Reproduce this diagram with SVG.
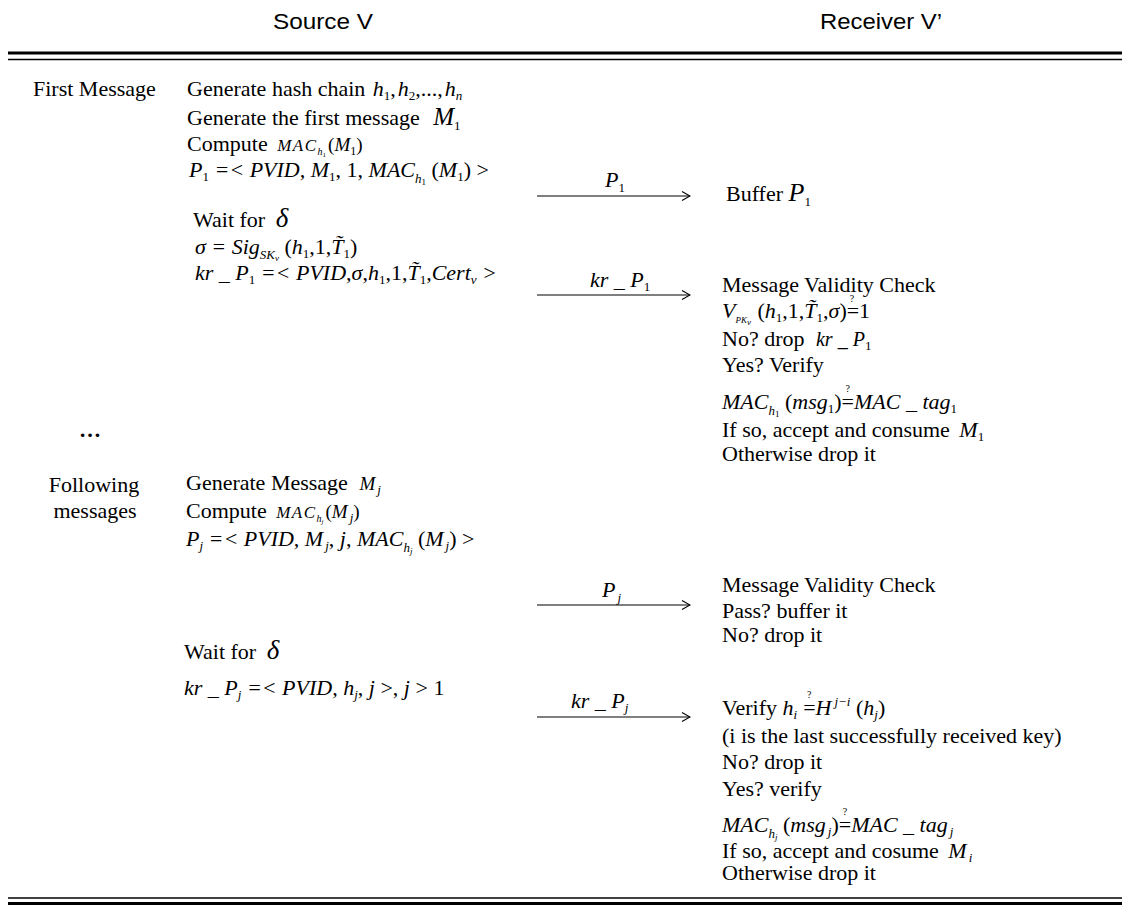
<svg xmlns="http://www.w3.org/2000/svg" width="1127" height="907" viewBox="0 0 1127 907">
<defs>
<style>
.t{font-family:"Liberation Serif","Times New Roman",serif;font-size:22px;fill:#000}
.h{font-family:"Liberation Sans",Arial,sans-serif;font-size:22px;fill:#000}
.m{font-style:italic}
.n{font-style:normal}
.sb{font-size:13px;font-style:normal}
.sbi{font-size:13px;font-style:italic}
.ss{font-size:9px;font-style:normal}
.ssi{font-size:9px;font-style:italic}
.q{font-size:10px;font-style:normal}
.rule{stroke:#000;fill:none}
.arr{stroke:#000;stroke-width:1.2;fill:none}
</style>
<marker id="open" viewBox="0 0 10 10" refX="9" refY="5" markerWidth="10" markerHeight="10" markerUnits="userSpaceOnUse" orient="auto">
<path d="M1,0.5 L9,5 L1,9.5" fill="none" stroke="#000" stroke-width="1.1"/>
</marker>
</defs>
<rect width="1127" height="907" fill="#fff"/>

<g id="header">
<text class="h" x="323" y="29" text-anchor="middle" font-size="23" textLength="100" lengthAdjust="spacingAndGlyphs">Source  V</text>
<text class="h" x="881" y="29" text-anchor="middle" font-size="23" textLength="122" lengthAdjust="spacingAndGlyphs">Receiver V’</text>
<line class="rule" x1="8" y1="53" x2="1122" y2="53" stroke-width="3"/>
<line class="rule" x1="8" y1="59.5" x2="1122" y2="59.5" stroke-width="1.5"/>
</g>

<g id="label-first">
<text class="t" x="33" y="96">First Message</text>
</g>

<g id="source-first">
<text class="t" x="187" y="96">Generate hash chain <tspan class="m" dx="2">h</tspan><tspan class="sb" dy="4">1</tspan><tspan dy="-4">,</tspan><tspan class="m" dx="2">h</tspan><tspan class="sb" dy="4">2</tspan><tspan dy="-4">,...,</tspan><tspan class="m" dx="2">h</tspan><tspan class="sbi" dy="4">n</tspan></text>
<text class="t" x="187" y="125">Generate the first message <tspan class="m" font-size="25" dx="8">M</tspan><tspan class="sb" dy="5">1</tspan></text>
<text class="t" x="187" y="151">Compute <tspan class="m" font-size="17" dx="4" letter-spacing="1.5">MAC</tspan><tspan class="m" font-size="10" dy="4">h</tspan><tspan font-size="7" dy="2">1</tspan><tspan font-size="19" dy="-6" dx="2">(</tspan><tspan class="m" font-size="19">M</tspan><tspan font-size="12" dy="4">1</tspan><tspan font-size="19" dy="-4">)</tspan></text>
<text class="t m" x="189" y="177" font-size="20">P<tspan class="sb" dy="4">1</tspan><tspan dy="-4"> =&lt; PVID, M</tspan><tspan class="sb" dy="4">1</tspan><tspan dy="-4" class="n">, 1, </tspan>MAC<tspan class="sbi" dy="6">h</tspan><tspan class="ss" dy="2">1</tspan><tspan dy="-8" class="n"> (</tspan>M<tspan class="sb" dy="4">1</tspan><tspan dy="-4" class="n">) &gt;</tspan></text>
<text class="t" x="193" y="227">Wait for <tspan class="m" font-size="27" dx="5">δ</tspan></text>
<text class="t m" x="195" y="254" font-size="17">σ = Sig<tspan class="sbi" dy="5">SK</tspan><tspan class="ssi" dy="2">v</tspan><tspan dy="-7" class="n"> (</tspan>h<tspan class="sb" dy="4">1</tspan><tspan dy="-4" class="n">,1,</tspan>T̃<tspan class="sb" dy="4">1</tspan><tspan dy="-4" class="n">)</tspan></text>
<text class="t m" x="195" y="280" font-size="16.5">kr _ P<tspan class="sb" dy="4">1</tspan><tspan dy="-4"> =&lt; PVID,</tspan><tspan>σ</tspan><tspan class="n">,</tspan><tspan>h</tspan><tspan class="sb" dy="4">1</tspan><tspan dy="-4" class="n">,1,</tspan><tspan>T̃</tspan><tspan class="sb" dy="4">1</tspan><tspan dy="-4">,Cert</tspan><tspan class="sbi" dy="4">v</tspan><tspan dy="-4"> &gt;</tspan></text>
</g>

<g id="receiver-first">
<text class="t" x="726" y="201">Buffer <tspan class="m" font-size="26">P</tspan><tspan class="sb" dy="5">1</tspan></text>
<text class="t" x="722" y="292">Message Validity Check</text>
<text class="t m" x="722" y="318" font-size="19">V<tspan class="ssi" dy="5">PK</tspan><tspan class="ssi" font-size="6" dy="2">v</tspan><tspan dy="-7" class="n" dx="1"> (</tspan>h<tspan class="sb" dy="4">1</tspan><tspan dy="-4" class="n">,1,</tspan>T̃<tspan class="sb" dy="4">1</tspan><tspan dy="-4" class="n">,</tspan>σ<tspan class="n">)</tspan><tspan class="q" dx="3" dy="-16">?</tspan><tspan class="n" dx="-7.5" dy="16">=1</tspan></text>
<text class="t" x="722" y="346">No? drop  <tspan class="m" font-size="20" dx="6">kr _ P</tspan><tspan class="sb" dy="4">1</tspan></text>
<text class="t" x="722" y="372">Yes?  Verify</text>
<text class="t m" x="722" y="409" font-size="22">MAC<tspan class="sbi" dy="6">h</tspan><tspan class="ss" dy="2">1</tspan><tspan dy="-8" class="n"> (</tspan>msg<tspan class="sb" dy="4">1</tspan><tspan dy="-4" class="n">)</tspan><tspan class="q" dx="4" dy="-17">?</tspan><tspan class="n" dx="-8.4" dy="17">=</tspan>MAC _ tag<tspan class="sb" dy="4">1</tspan></text>
<text class="t" x="722" y="437">If so, accept and consume  <tspan class="m" dx="4">M</tspan><tspan class="sb" dy="4">1</tspan></text>
<text class="t" x="722" y="461">Otherwise drop it</text>
</g>

<g id="ellipsis">
<text class="t" x="90" y="437" text-anchor="middle" font-weight="bold" font-size="24">…</text>
</g>

<g id="label-following">
<text class="t" x="94" y="492" text-anchor="middle">Following</text>
<text class="t" x="95" y="518" text-anchor="middle">messages</text>
</g>

<g id="source-following">
<text class="t" x="186" y="490">Generate Message  <tspan class="m" font-size="19" dx="6">M</tspan><tspan class="sbi" dy="4" dx="2">j</tspan></text>
<text class="t" x="186" y="518">Compute <tspan class="m" font-size="17" dx="4" letter-spacing="1.5">MAC</tspan><tspan class="m" font-size="10" dy="4">h</tspan><tspan class="m" font-size="7" dy="2">j</tspan><tspan font-size="19" dy="-6" dx="2">(</tspan><tspan class="m" font-size="19">M</tspan><tspan class="sbi" dy="4" dx="2">j</tspan><tspan font-size="19" dy="-4">)</tspan></text>
<text class="t m" x="186" y="546" font-size="19">P<tspan class="sbi" dy="4">j</tspan><tspan dy="-4"> =&lt; PVID, M</tspan><tspan class="sbi" dy="4" dx="2">j</tspan><tspan dy="-4" class="n">, </tspan>j<tspan class="n">, </tspan>MAC<tspan class="sbi" dy="6">h</tspan><tspan class="ssi" dy="2">j</tspan><tspan dy="-8" class="n"> (</tspan>M<tspan class="sbi" dy="4" dx="2">j</tspan><tspan dy="-4" class="n">) &gt;</tspan></text>
<text class="t" x="184" y="659">Wait for <tspan class="m" font-size="27" dx="5">δ</tspan></text>
<text class="t m" x="184" y="695" font-size="19">kr _ P<tspan class="sbi" dy="4">j</tspan><tspan dy="-4"> =&lt; PVID, h</tspan><tspan class="sbi" dy="4">j</tspan><tspan dy="-4" class="n">, </tspan>j<tspan class="n"> &gt;, </tspan>j<tspan class="n"> &gt; 1</tspan></text>
</g>

<g id="receiver-following">
<text class="t" x="722" y="592">Message Validity Check</text>
<text class="t" x="722" y="618">Pass? buffer it</text>
<text class="t" x="722" y="642">No? drop it</text>
<text class="t" x="722" y="715">Verify <tspan class="m">h</tspan><tspan class="sbi" dy="4">i</tspan><tspan class="q" dx="10" dy="-21">?</tspan><tspan dx="-8.4" dy="17">=</tspan><tspan class="m">H</tspan><tspan class="sbi" dy="-9" dx="3">j−i</tspan><tspan dy="9"> (</tspan><tspan class="m">h</tspan><tspan class="sbi" dy="4">j</tspan><tspan dy="-4">)</tspan></text>
<text class="t" x="722" y="743">(i is the last successfully received key)</text>
<text class="t" x="722" y="769">No? drop it</text>
<text class="t" x="722" y="796">Yes? verify</text>
<text class="t m" x="722" y="832" font-size="22">MAC<tspan class="sbi" dy="6">h</tspan><tspan class="ssi" dy="2">j</tspan><tspan dy="-8" class="n"> (</tspan>msg<tspan class="sbi" dy="4" dx="2">j</tspan><tspan dy="-4" class="n">)</tspan><tspan class="q" dx="4" dy="-17">?</tspan><tspan class="n" dx="-8.4" dy="17">=</tspan>MAC _ tag<tspan class="sbi" dy="4" dx="2">j</tspan></text>
<text class="t" x="722" y="858">If so, accept and cosume  <tspan class="m" dx="4">M</tspan><tspan class="sbi" dy="4" dx="2">i</tspan></text>
<text class="t" x="722" y="880">Otherwise drop it</text>
</g>

<g id="connectors">
<line class="arr" x1="537" y1="196" x2="690" y2="196" marker-end="url(#open)"/>
<line class="arr" x1="537" y1="295" x2="690" y2="295" marker-end="url(#open)"/>
<line class="arr" x1="537" y1="605" x2="690" y2="605" marker-end="url(#open)"/>
<line class="arr" x1="537" y1="717" x2="690" y2="717" marker-end="url(#open)"/>
<text class="t m" x="605" y="187" font-size="23">P<tspan class="sb" dy="5">1</tspan></text>
<text class="t m" x="590" y="287" font-size="19">kr _ P<tspan class="sb" dy="4">1</tspan></text>
<text class="t m" x="602" y="597" font-size="23">P<tspan class="sbi" dy="5" dx="2">j</tspan></text>
<text class="t m" x="571" y="708" font-size="19">kr _ P<tspan class="sbi" dy="4">j</tspan></text>
</g>

<g id="footer">
<line class="rule" x1="8" y1="898" x2="1122" y2="898" stroke-width="1.5"/>
<line class="rule" x1="8" y1="903.5" x2="1122" y2="903.5" stroke-width="3"/>
</g>
</svg>
